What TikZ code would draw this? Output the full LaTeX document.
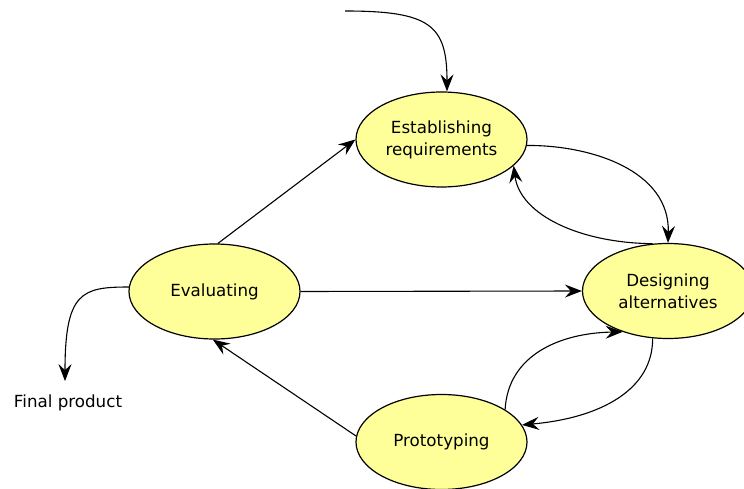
\documentclass[tikz,border=0pt]{standalone}
\usepackage{fontspec}
\setmainfont{DejaVu Sans}
\usetikzlibrary{shapes.geometric,arrows.meta}
\definecolor{stagefill}{HTML}{FFFF99}
\tikzset{
  stage/.style={ellipse, draw=black, line width=1.2pt, fill=stagefill,
    minimum width=171pt, minimum height=95pt, inner sep=0pt, align=center,
    font=\fontsize{16.7}{22}\selectfont},
  link/.style={draw=black, line width=1.1pt,
    -{Stealth[length=17pt,width=13pt,inset=6pt]}},
  plain/.style={font=\fontsize{16.7}{22}\selectfont, inner xsep=2pt, inner ysep=13pt}
}
\begin{document}
\begin{tikzpicture}[x=1pt,y=-1pt]
\useasboundingbox (0,0) rectangle (744,489);
\node[stage] (est) at (441.5,139.5) {Establishing\\requirements};
\node[stage] (des) at (668,291) {Designing\\alternatives};
\node[stage] (eva) at (214.5,291.5) {Evaluating};
\node[stage] (pro) at (441.5,442) {Prototyping};
\node[plain, anchor=base] (fp) at (68,407) {Final product};
\coordinate (start) at (345,11);

\draw[link] (start) .. controls (430,11) and (447,25) .. ([xshift=5.5pt]est.north);
\draw[link] (est.-4) .. controls (590,145) and (670,170) .. (des.north);
\draw[link] (des.108) .. controls (580,243) and (520,215) .. (est.-20);
\draw[link] (eva.86) -- (est.west);
\draw[link] (eva.east) -- (des.west);
\draw[link] (pro.176) -- (eva.-92);
\draw[link] (pro.27) .. controls (508,355) and (560,333) .. (des.-138);
\draw[link] (des.-108) .. controls (653,390) and (600,418) .. (pro.12);
\draw[link] (eva.177) .. controls (82,287) and (65,292) .. ([xshift=-3pt]fp.north);
\end{tikzpicture}
\end{document}
